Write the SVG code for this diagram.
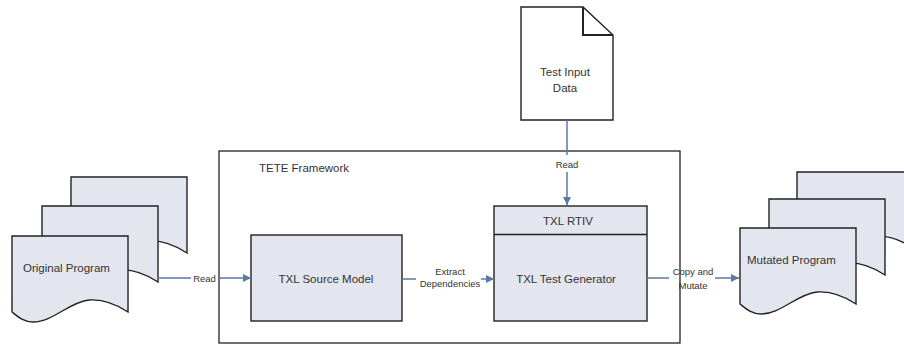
<svg xmlns="http://www.w3.org/2000/svg" width="904" height="346" viewBox="0 0 904 346">
<style>
.page{fill:#e3e6ee;stroke:#222;stroke-width:1.4}
.box{fill:#e3e6ee;stroke:#222;stroke-width:1.4}
.frame{fill:none;stroke:#222;stroke-width:1.3}
.lbl{font-family:"Liberation Sans",Arial,sans-serif;font-size:11.5px;fill:#333}
.clbl{font-family:"Liberation Sans",Arial,sans-serif;font-size:9.5px;fill:#333;text-anchor:middle}
.conn{fill:none;stroke:#5a7aa3;stroke-width:1.5}
</style>
<defs>
<path id="doc" d="M0,0 H116 V76 C104,68 92,63 77,64 C57,66 41,86 21,86 C11,86 5,80 0,76 Z"/>
<marker id="arr" viewBox="0 0 10 10" refX="10" refY="5" markerWidth="10" markerHeight="8" markerUnits="userSpaceOnUse" orient="auto">
<path d="M0,0 L10,5 L0,10 Z" fill="#5a7aa3"/>
</marker>
</defs>
<g id="tete-framework">
<rect class="frame" x="219" y="151" width="461" height="192"/>
<text class="lbl" x="259" y="172">TETE Framework</text>
</g>
<g id="original-program">
<use href="#doc" class="page" x="71" y="177"/>
<use href="#doc" class="page" x="42" y="206"/>
<use href="#doc" class="page" x="12" y="236"/>
<text class="lbl" x="23" y="272">Original Program</text>
</g>
<g id="mutated-program">
<use href="#doc" class="page" x="797" y="172"/>
<use href="#doc" class="page" x="769" y="199"/>
<use href="#doc" class="page" x="740" y="228"/>
<text class="lbl" x="747" y="264">Mutated Program</text>
</g>
<g id="test-input-data">
<path d="M521,7 H583 L613,35 V120 H521 Z" fill="#fff" stroke="#222" stroke-width="1.4"/>
<path d="M583,7 V35 H613" fill="none" stroke="#222" stroke-width="2"/>
<text class="lbl" x="565" y="76" text-anchor="middle">Test Input</text>
<text class="lbl" x="565" y="92" text-anchor="middle">Data</text>
</g>
<g id="txl-source-model">
<rect class="box" x="251" y="235" width="151" height="86"/>
<text class="lbl" x="326" y="283" text-anchor="middle">TXL Source Model</text>
</g>
<g id="txl-test-generator">
<rect class="box" x="494" y="206" width="153" height="115"/>
<line x1="494" y1="234.5" x2="647" y2="234.5" stroke="#222" stroke-width="1.4"/>
<text class="lbl" x="568" y="225" text-anchor="middle">TXL RTIV</text>
<text class="lbl" x="566" y="283" text-anchor="middle">TXL Test Generator</text>
</g>
<g id="connectors">
<path class="conn" d="M157,278 H191"/>
<path class="conn" d="M218,278 H251" marker-end="url(#arr)"/>
<text class="clbl" x="204.5" y="281.5">Read</text>
<path class="conn" d="M567,120 V155"/>
<path class="conn" d="M567,172 V205" marker-end="url(#arr)"/>
<text class="clbl" x="567" y="167.5">Read</text>
<path class="conn" d="M402,279 H416"/>
<path class="conn" d="M481,279 H494" marker-end="url(#arr)"/>
<text class="clbl" x="450" y="275">Extract</text>
<text class="clbl" x="450" y="287">Dependencies</text>
<path class="conn" d="M647,278 H669"/>
<path class="conn" d="M715,278 H739" marker-end="url(#arr)"/>
<text class="clbl" x="693" y="275">Copy and</text>
<text class="clbl" x="693" y="289">Mutate</text>
</g>
</svg>
